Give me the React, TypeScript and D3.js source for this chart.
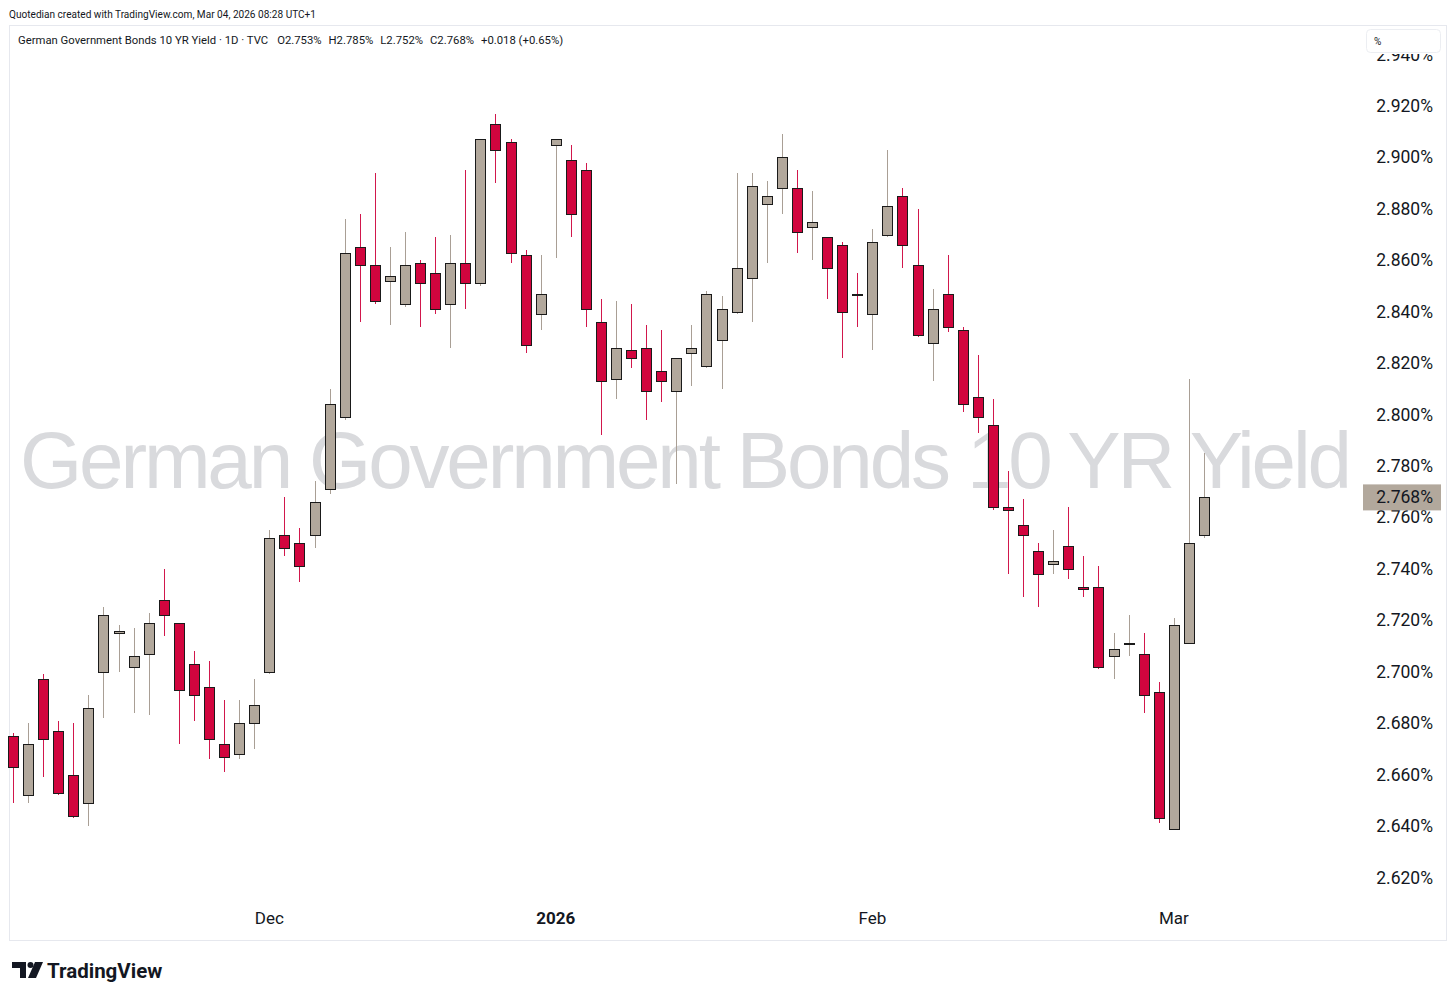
import React from "react";
import * as d3 from "d3";

const dates: string[] = [
  "2025-11-06","2025-11-07","2025-11-10","2025-11-11","2025-11-12","2025-11-13","2025-11-14",
  "2025-11-17","2025-11-18","2025-11-19","2025-11-20","2025-11-21","2025-11-24","2025-11-25",
  "2025-11-26","2025-11-27","2025-11-28",
  "2025-12-01","2025-12-02","2025-12-03","2025-12-04","2025-12-05","2025-12-08","2025-12-09",
  "2025-12-10","2025-12-11","2025-12-12","2025-12-15","2025-12-16","2025-12-17","2025-12-18",
  "2025-12-19","2025-12-22","2025-12-23","2025-12-29","2025-12-30",
  "2026-01-02","2026-01-05","2026-01-06","2026-01-07","2026-01-08","2026-01-09","2026-01-12",
  "2026-01-13","2026-01-14","2026-01-15","2026-01-16","2026-01-19","2026-01-20","2026-01-21",
  "2026-01-22","2026-01-23","2026-01-26","2026-01-27","2026-01-28","2026-01-29","2026-01-30",
  "2026-02-02","2026-02-03","2026-02-04","2026-02-05","2026-02-06","2026-02-09","2026-02-10",
  "2026-02-11","2026-02-12","2026-02-13","2026-02-16","2026-02-17","2026-02-18","2026-02-19",
  "2026-02-20","2026-02-23","2026-02-24","2026-02-25","2026-02-26","2026-02-27",
  "2026-03-02","2026-03-03","2026-03-04",
];

const opens: number[] = [
  2.675, 2.652, 2.697, 2.677, 2.660, 2.649, 2.700, 2.715, 2.702, 2.707,
  2.728, 2.719, 2.703, 2.694, 2.672, 2.668, 2.680, 2.700, 2.753, 2.750,
  2.753, 2.771, 2.799, 2.865, 2.858, 2.852, 2.843, 2.859, 2.855, 2.843,
  2.859, 2.851, 2.913, 2.906, 2.862, 2.839, 2.905, 2.899, 2.895, 2.836,
  2.814, 2.825, 2.826, 2.817, 2.809, 2.824, 2.819, 2.829, 2.840, 2.853,
  2.882, 2.888, 2.888, 2.873, 2.869, 2.866, 2.847, 2.839, 2.870, 2.885,
  2.858, 2.828, 2.847, 2.833, 2.807, 2.796, 2.764, 2.757, 2.747, 2.742,
  2.749, 2.733, 2.733, 2.706, 2.711, 2.707, 2.692, 2.639, 2.711, 2.753,
];
const highs: number[] = [
  2.676, 2.680, 2.699, 2.681, 2.680, 2.691, 2.725, 2.718, 2.717, 2.723,
  2.740, 2.719, 2.708, 2.704, 2.689, 2.689, 2.697, 2.755, 2.768, 2.756,
  2.774, 2.810, 2.876, 2.878, 2.894, 2.865, 2.871, 2.860, 2.869, 2.870,
  2.895, 2.907, 2.917, 2.907, 2.864, 2.862, 2.907, 2.905, 2.898, 2.845,
  2.844, 2.843, 2.835, 2.833, 2.822, 2.835, 2.848, 2.846, 2.894, 2.894,
  2.891, 2.909, 2.895, 2.887, 2.869, 2.867, 2.855, 2.872, 2.903, 2.888,
  2.880, 2.849, 2.862, 2.834, 2.823, 2.806, 2.778, 2.767, 2.750, 2.755,
  2.764, 2.745, 2.741, 2.715, 2.722, 2.715, 2.696, 2.721, 2.814, 2.785,
];
const lows: number[] = [
  2.649, 2.649, 2.659, 2.652, 2.643, 2.640, 2.682, 2.700, 2.684, 2.683,
  2.714, 2.672, 2.681, 2.666, 2.661, 2.666, 2.670, 2.699, 2.745, 2.735,
  2.748, 2.769, 2.798, 2.836, 2.843, 2.835, 2.842, 2.834, 2.839, 2.826,
  2.841, 2.850, 2.890, 2.859, 2.824, 2.833, 2.861, 2.869, 2.834, 2.792,
  2.806, 2.818, 2.798, 2.805, 2.773, 2.811, 2.818, 2.810, 2.839, 2.836,
  2.859, 2.878, 2.863, 2.860, 2.845, 2.822, 2.834, 2.825, 2.869, 2.857,
  2.830, 2.813, 2.832, 2.801, 2.793, 2.763, 2.738, 2.729, 2.725, 2.738,
  2.736, 2.729, 2.701, 2.697, 2.706, 2.684, 2.641, 2.639, 2.711, 2.752,
];
const closes: number[] = [
  2.663, 2.672, 2.674, 2.653, 2.644, 2.686, 2.722, 2.716, 2.706, 2.719,
  2.722, 2.693, 2.691, 2.674, 2.667, 2.680, 2.687, 2.752, 2.748, 2.741,
  2.766, 2.804, 2.863, 2.858, 2.844, 2.854, 2.858, 2.851, 2.841, 2.859,
  2.851, 2.907, 2.903, 2.863, 2.827, 2.847, 2.907, 2.878, 2.841, 2.813,
  2.826, 2.822, 2.809, 2.813, 2.822, 2.826, 2.847, 2.841, 2.857, 2.889,
  2.885, 2.900, 2.871, 2.875, 2.857, 2.840, 2.8469, 2.867, 2.881, 2.866,
  2.831, 2.841, 2.834, 2.804, 2.799, 2.764, 2.763, 2.753, 2.738, 2.743,
  2.740, 2.732, 2.702, 2.709, 2.711, 2.691, 2.643, 2.718, 2.750, 2.768,
];

const yTicks: number[] = [2.62, 2.64, 2.66, 2.68, 2.7, 2.72, 2.74, 2.76, 2.78, 2.8, 2.82, 2.84, 2.86, 2.88, 2.9, 2.92, 2.94];
const monthTicks: { month: string; label: string; bold: boolean }[] = [
  { month: "2025-12", label: "Dec", bold: false },
  { month: "2026-01", label: "2026", bold: true },
  { month: "2026-02", label: "Feb", bold: false },
  { month: "2026-03", label: "Mar", bold: false },
];

const headerText = "Quotedian created with TradingView.com, Mar 04, 2026 08:28 UTC+1";
const legendText = "German Government Bonds 10 YR Yield · 1D · TVC";
const watermark = "German Government Bonds 10 YR Yield";

const UP_FILL = "#b2a89c";
const UP_WICK = "#a99f95";
const DN_FILL = "#d1053e";
const DN_WICK = "#d1174c";
const TXT = "#131722";
const FONT = "Roboto, 'Noto Sans', sans-serif";

export default function App() {
  const W = 1456, H = 999;
  const x = d3.scaleLinear().domain([0, dates.length - 1]).range([13, 1204]);
  const y = d3.scaleLinear().domain([2.62, 2.92]).range([877.5, 106]);
  const fmt = d3.format(".3f");

  const last = dates.length - 1;
  const lo = opens[last], lh = highs[last], ll = lows[last], lc = closes[last];
  const chg = lc - closes[last - 1];

  const candles = dates.map((d, i) => {
    const o = opens[i], h = highs[i], l = lows[i], c = closes[i];
    const up = c >= o;
    const cx = Math.round(x(i));
    const yt = y(Math.max(o, c));
    const yb = y(Math.min(o, c));
    const top = Math.round(yt);
    const bh = Math.max(1, Math.round(yb) - top);
    return (
      <g key={d}>
        <line x1={cx + 0.5} x2={cx + 0.5} y1={Math.round(y(h))} y2={Math.round(y(l))}
          stroke={up ? UP_WICK : DN_WICK} strokeWidth={1} />
        <rect x={cx - 4.5} y={top + 0.5} width={10} height={bh}
          fill={up ? UP_FILL : DN_FILL} stroke="#1a1a1a" strokeWidth={1} />
      </g>
    );
  });

  const monthLabels = monthTicks.map((m) => {
    const idx = dates.findIndex((d) => d.startsWith(m.month));
    return (
      <text key={m.month} x={x(idx)} y={924} textAnchor="middle" fontFamily={FONT}
        fontSize={17} fontWeight={m.bold ? 700 : 400} fill={TXT}>{m.label}</text>
    );
  });

  return (
    <svg width={W} height={H} style={{ position: "absolute", left: 0, top: 0 }}
      xmlns="http://www.w3.org/2000/svg">
      <defs>
        <clipPath id="axisClip">
          <rect x={1350} y={54} width={106} height={880} />
        </clipPath>
      </defs>
      <rect x={0} y={0} width={W} height={H} fill="#fff" />
      <text x={9} y={18} fontFamily={FONT} fontSize={11.5} fill={TXT}
        textLength={307} lengthAdjust="spacingAndGlyphs">{headerText}</text>
      <rect x={9.5} y={25.5} width={1437} height={915} fill="#fff" stroke="#e6e8ee" strokeWidth={1} />

      <text x={686} y={488} textAnchor="middle" fontFamily="'Liberation Sans', Arial, sans-serif"
        fontSize={80} fill="#d9dadd" textLength={1332} lengthAdjust="spacing">{watermark}</text>

      <text x={18} y={44} fontFamily={FONT} fontSize={11.3} fill={TXT}>
        {legendText}
        <tspan dx={9}>{`O${fmt(lo)}%`}</tspan>
        <tspan dx={7}>{`H${fmt(lh)}%`}</tspan>
        <tspan dx={7}>{`L${fmt(ll)}%`}</tspan>
        <tspan dx={7}>{`C${fmt(lc)}%`}</tspan>
        <tspan dx={7}>{`${chg >= 0 ? "+" : ""}${fmt(chg)} (${chg >= 0 ? "+" : ""}${(chg / closes[last - 1] * 100).toFixed(2)}%)`}</tspan>
      </text>

      {candles}

      <g clipPath="url(#axisClip)">
        {yTicks.map((t) => (
          <text key={t} x={1433} y={y(t) + 6} textAnchor="end" fontFamily={FONT} fontSize={17.5} fill={TXT}>
            {`${fmt(t)}%`}
          </text>
        ))}
      </g>

      <rect x={1366.5} y={29.5} width={74} height={23} rx={4} fill="#fff" stroke="#eceef2" />
      <text x={1374} y={45} fontFamily={FONT} fontSize={10} fill={TXT}>%</text>

      <rect x={1363} y={y(lc) - 12.5} width={78} height={26} fill={UP_FILL} />
      <text x={1433} y={y(lc) + 6} textAnchor="end" fontFamily={FONT} fontSize={17.5} fill={TXT}>
        {`${fmt(lc)}%`}
      </text>

      {monthLabels}

      <g transform="translate(12,962)" fill="#131722">
        <path d="M0 0 H14 V16 H8 V6 H0 Z" />
        <circle cx={18.5} cy={3} r={3} />
        <path d="M23 0 H31 L24 16 H16 Z" />
      </g>
      <text x={47} y={978} fontFamily={FONT} fontSize={20.5} fontWeight={700} fill="#131722">TradingView</text>
    </svg>
  );
}
